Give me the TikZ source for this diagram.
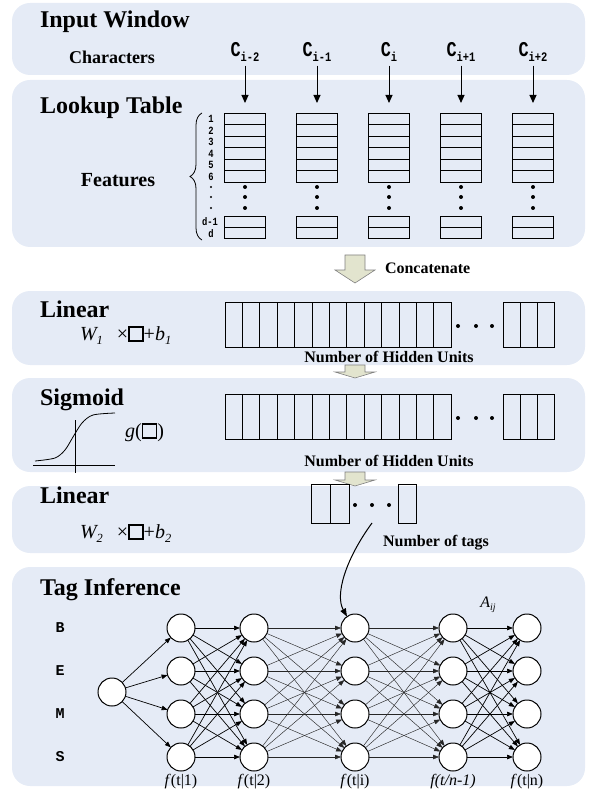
\documentclass[tikz,border=0pt]{standalone}
\usepackage[svgnames]{xcolor}
\usepackage{amsmath,amssymb,graphicx}
\usepackage{fontspec}
\setmainfont{Liberation Serif}
\setmonofont{Liberation Mono}
\usepackage{tikz}
\usetikzlibrary{arrows.meta,decorations.pathreplacing,positioning}
\definecolor{PanelBlue}{RGB}{229,235,246}
\definecolor{ArrowOlive}{RGB}{226,228,206}
\newcommand{\lowsub}[1]{\raisebox{-0.45ex}{\scalebox{0.62}{#1}}}
\newcommand{\slotbox}{{\setlength{\fboxsep}{0pt}\setlength{\fboxrule}{1.6pt}\fbox{\rule{0pt}{0.62em}\hspace{0.62em}}}}

\begin{document}
\begin{tikzpicture}[x=1pt,y=-1pt,line width=0.8pt,
      every node/.append style={inner sep=0pt,outer sep=0pt},
      panel/.style={fill=PanelBlue,rounded corners=18pt},
      title/.style={anchor=base west,font=\fontsize{24}{24}\selectfont\bfseries},
      lab/.style={font=\fontsize{16}{16}\selectfont\bfseries},
      numlab/.style={font=\fontsize{11}{11}\selectfont\ttfamily\bfseries},
      formula/.style={anchor=base west,font=\fontsize{20}{20}\selectfont},
      cell/.style={draw,rectangle,minimum width=41pt},
      tag/.style={draw,circle,fill=white,minimum size=28pt,line width=1pt},
      tagarrow/.style={-{Triangle[length=6pt,width=4.5pt]},line width=0.7pt},
      faint/.style={tagarrow,line width=0.45pt,black!85},
      flab/.style={font=\fontsize{16}{16}\selectfont}]
    \useasboundingbox (0,0) rectangle (589,791);
    \fill[panel] (12,3) rectangle (585,75);
    \fill[panel] (12,80) rectangle (585,247);
    \fill[panel] (12,291) rectangle (585,365);
    \fill[panel] (12,378) rectangle (585,472);
    \fill[panel] (12,486) rectangle (585,553);
    \fill[panel] (12,567) rectangle (585,786);
    \foreach \top/\base/\tip in {255/270/283, 365/372/378, 472/480/486}
      \draw[fill=ArrowOlive,draw=gray,line width=0.6pt] (345,\top) -- (365,\top) -- (365,\base)
        -- (375,\base) -- (355,\tip) -- (335,\base) -- (345,\base) -- cycle;

    \node[title] (inwin) at (40,28) {Input Window};
    \node[font=\fontsize{18}{18}\selectfont\bfseries] (chars) at (112,57) {Characters};
    \foreach \s [count=\k] in {i-2,i-1,i,i+1,i+2}
      \node[font=\fontsize{21}{21}\selectfont\ttfamily\bfseries] (c\k) at ({173+72*\k},52) {\scalebox{0.8}[1]{C\lowsub{\s}}};

    \node[title] (lookup) at (40,114) {Lookup Table};
    \foreach \k in {1,...,5} {
      \node[cell,minimum height=69pt] (lt\k) at ({173+72*\k},147.5) {};
      \node[cell,minimum height=22pt] (lb\k) at ({173+72*\k},227) {};
      \foreach \r in {1,...,5} \draw ({152.5+72*\k},{113+11.5*\r}) -- ++(41,0);
      \draw ({152.5+72*\k},227) -- ++(41,0);
      \foreach \d in {187,197,208} \fill ({173+72*\k},\d) circle (2pt);
      \draw[-{Triangle[length=8pt,width=7pt]},line width=1pt,shorten <=4pt,shorten >=10pt] (c\k) -- (lt\k);
    }
    \foreach \n [count=\r] in {1,...,6}
      \node[numlab] at (211,{107.5+11.5*\r}) {\scalebox{0.8}[1]{\n}};
    \foreach \d in {187,197,208} \fill (211,\d) circle (1.2pt);
    \node[numlab,anchor=east] (dm) at (218,222) {\scalebox{0.8}[1]{d-1}};
    \node[numlab] (dd) at (211,234) {\scalebox{0.8}[1]{d}};
    \draw[decorate,decoration={brace,amplitude=12pt}] (202,240) -- (202,113);
    \node[font=\fontsize{20}{20}\selectfont\bfseries] (feat) at (118,180) {Features};
    \node[lab,anchor=west] (concat) at (385,268) {Concatenate};

    \node[title] (lin1) at (40,317) {Linear};
    \node[formula] (w1) at (80,340) {\itshape W\lowsub{1}\hspace{14pt}\upshape×\slotbox+\itshape b\lowsub{1}};
    \node[title] (sig) at (40,405) {Sigmoid};
    \draw[line width=0.6pt] (33,465) -- (115,465);
    \draw[line width=0.6pt] (75,420) -- (75,473);
    \draw plot[smooth] coordinates {(35,461) (55,458) (65,450) (73,437) (82,423) (93,415) (115,413)};
    \node[formula] (gfun) at (125,437) {\itshape g\upshape(\slotbox)};
    \foreach \y/\n in {302/hida, 394/hidb} {
      \node[draw,minimum width=226pt,minimum height=45pt,anchor=north west] (\n) at (225,\y) {};
      \foreach \i in {1,...,12} \draw ({225+17.4*\i},\y) -- ++(0,45);
      \foreach \d in {458,476,492} \fill (\d,{\y+24}) circle (2pt);
      \node[draw,minimum width=51pt,minimum height=45pt,anchor=north west] (\n-r) at (503,\y) {};
      \foreach \i in {1,2} \draw ({503+17*\i},\y) -- ++(0,45);
    }
    \node[lab] (units1) at (389,357) {Number of Hidden Units};
    \node[lab] (units2) at (389,461) {Number of Hidden Units};

    \node[title] (lin2) at (40,503) {Linear};
    \node[formula] (w2) at (80,538) {\itshape W\lowsub{2}\hspace{14pt}\upshape×\slotbox+\itshape b\lowsub{2}};
    \node[draw,minimum width=38pt,minimum height=39pt,anchor=north west] (outc) at (311,484) {};
    \draw (330,484) -- ++(0,39);
    \foreach \d in {355,372,389} \fill (\d,505) circle (2pt);
    \node[draw,minimum width=18pt,minimum height=39pt,anchor=north west] (outr) at (398,484) {};
    \node[lab] (ntags) at (436,543) {Number of tags};

    \node[title] (infer) at (40,595) {Tag Inference};
    \foreach \t [count=\r] in {B,E,M,S}
      \node[font=\fontsize{15}{15}\selectfont\ttfamily\bfseries] (tl\r) at (60,{585+43*\r}) {\t};
    \node[tag] (t0) at (112,692) {};
    \foreach \x [count=\c] in {181,254,355,453,527}
      \foreach \y [count=\r] in {628,671,714,757}
        \node[tag] (t\c\r) at (\x,\y) {};
    \foreach \r in {1,...,4} \draw[tagarrow] (t0) -- (t1\r);
    \foreach \a/\b/\s in {1/2/tagarrow, 2/3/faint, 3/4/faint, 4/5/tagarrow}
      \foreach \r in {1,...,4}
        \foreach \q in {1,...,4}
          \draw[\s] (t\a\r) -- (t\b\q);
    \coordinate (tagsrc) at (372,523);
    \draw[-{Triangle[length=8pt,width=6pt]},line width=1pt] (tagsrc) .. controls (345,560) and (335,595) .. (t31.125);
    \node[font=\fontsize{16}{16}\selectfont\itshape] (aij) at (488,605) {A\lowsub{ij}};
    \node[flab] (f1) at (181,782) {\textit{f}(t|1)};
    \node[flab] (f2) at (254,782) {\textit{f}(t|2)};
    \node[flab] (fi) at (355,782) {\textit{f}(t|i)};
    \node[flab] (fm) at (453,782) {\textit{f(t/n-1)}};
    \node[flab] (fn) at (527,782) {\textit{f}(t|n)};
\end{tikzpicture}
\end{document}
